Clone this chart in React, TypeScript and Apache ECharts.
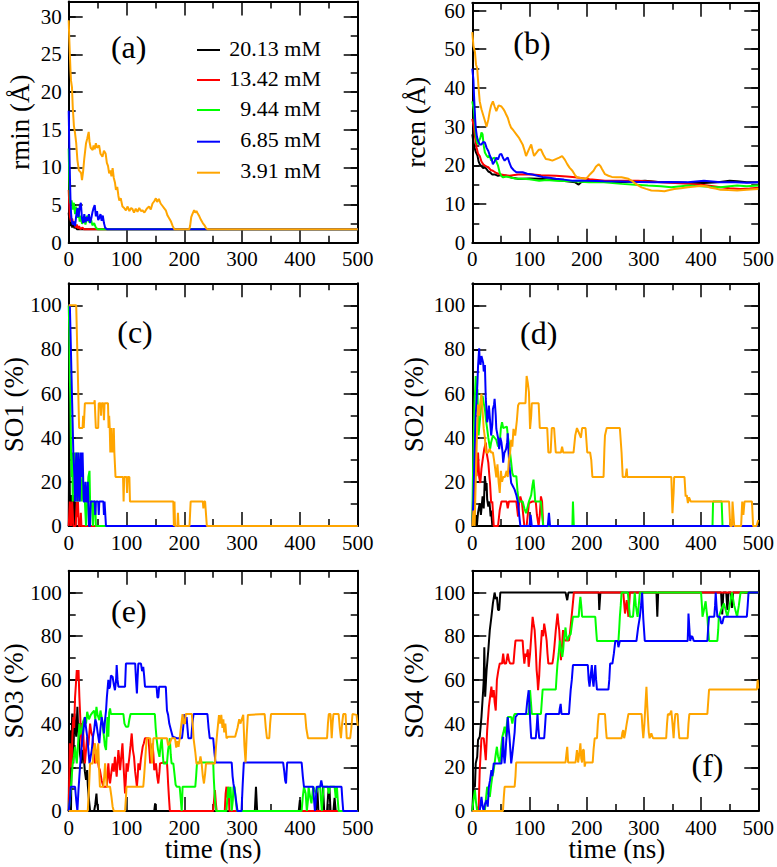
import React, { useEffect, useRef } from "react";
import * as echarts from "echarts";

// ---------- labels ----------
const CONCENTRATIONS = ["20.13 mM", "13.42 mM", "9.44 mM", "6.85 mM", "3.91 mM"];
const COLORS = ["#000000", "#ff0000", "#00ff00", "#0000ff", "#ffa500"];
const TIME_TICKS = [0, 100, 200, 300, 400, 500];

// ---------- (a) rmin ----------
const A_BLACK = [[0,4],[1,3],[2,2.4],[3,3.6],[4,2.2],[5,3.2],[6,2.0],[8,2.8],[10,1.9],[12,2.2],[14,1.8],[500,1.8]];
const A_RED = [[0,7],[1,5],[2,3.5],[4,2.8],[6,3.2],[8,2.4],[10,2.6],[12,2.0],[14,2.4],[16,1.9],[18,2.2],[20,1.8],[24,2.0],[26,1.8],[500,1.8]];
const A_GREEN = [[0,12.5],[1,8.5],[2,6],[3,5.2],[5,5.6],[7,4.4],[9,5.3],[11,3.8],[13,4.8],[15,3.3],[17,4.2],[19,2.8],[21,3.6],[23,2.5],[26,3.3],[29,2.4],[32,3.6],[35,2.7],[38,3.3],[41,2.3],[44,2.6],[47,2.0],[50,1.8],[500,1.8]];
const A_BLUE = [[0,17.5],[1,13],[2,9],[3,6],[4,4],[5,3],[7,2.4],[9,2.8],[11,2.2],[13,3.6],[15,4.6],[17,3.4],[19,4.8],[21,5.3],[23,3.2],[25,2.6],[27,3.8],[29,2.7],[31,3.4],[33,2.9],[35,3.8],[37,2.6],[39,3.2],[41,4.0],[43,4.6],[45,5.0],[47,3.5],[49,4.2],[51,3.0],[53,3.3],[55,3.8],[57,2.9],[59,3.6],[61,2.6],[63,2.0],[66,1.8],[500,1.8]];
const A_ORANGE = [[0,29.5],[1,27],[2,25],[3,23],[4,21.5],[5.7,20.6],[7,18],[9,15.5],[11,14.5],[13,13.2],[15,11],[17.6,9.6],[20,9.4],[21.6,9.2],[23,8.3],[25,9.5],[27,11.2],[30,13.2],[32,13.8],[34.6,14.7],[36,13.4],[38,12.6],[41.5,12.3],[43,12.9],[45,12.4],[47,13.2],[49,12.6],[52.6,12.9],[55,11.8],[58.4,11.4],[61,12.2],[64,11.8],[66,10.6],[68,10.2],[70,9.2],[72,9.6],[74,8.8],[76,9.9],[78,8.6],[80,8.0],[81.7,7.0],[84,7.4],[86,6.2],[87.5,5.6],[90,5.9],[93,4.8],[96,4.6],[99,4.3],[102,4.8],[105,4.2],[108,4.6],[110,4.5],[113,4.0],[116,4.5],[119,4.1],[122,4.6],[125,4.2],[127.5,4.3],[131,4.0],[135,4.5],[139,4.8],[142,4.4],[145,5.2],[148,5.5],[150.8,5.9],[153,5.4],[156,5.8],[159,5.2],[162,4.9],[165,4.6],[168,4.3],[171,3.6],[174,3.2],[177,2.8],[180,2.2],[182.6,1.8],[208.6,1.8],[210,2.2],[212,3.4],[214,3.8],[217,4.3],[219,4.0],[221,4.2],[223,3.9],[226,3.5],[229,3.0],[232,2.6],[235,2.3],[238,1.9],[240,1.8],[500,1.8]];

// ---------- (b) rcen ----------
const B_BLACK = [[0,28],[2,26],[4,24.5],[6,23.5],[9,22.5],[11,21],[13,20.3],[16,19.8],[19,19.3],[22,19.5],[25,19],[28,18.4],[31,18.2],[35,17.6],[40,17.6],[45,17.3],[50,17.5],[59,17.3],[70,16.8],[80,16.5],[88,16.5],[100,16.6],[117,16.5],[130,16.4],[146,16.2],[165,15.9],[180,15.6],[186,15.0],[190,15.6],[204,16],[230,15.8],[261,15.6],[280,15.8],[302,16],[325,15.7],[348,15.6],[375,15.5],[405,15.4],[430,15.6],[450,16],[463,15.9],[480,15.6],[500,15.6]];
const B_RED = [[0,32],[3,29.7],[5,27],[7.5,24.6],[10,23],[13,22.4],[16,21],[19,20.3],[23,19.8],[28,19.5],[32,18.8],[36,18.6],[42,18],[48,17.7],[55,17.5],[65,17.3],[80,17.6],[100,17.7],[120,17.4],[146,17.3],[165,17.1],[180,16.9],[205,16.4],[232,16],[260,16],[290,16],[310,15.8],[330,15.6],[355,15.4],[377,15.2],[405,14.9],[434,14.3],[450,14.1],[469,13.9],[485,14.0],[500,14.2]];
const B_GREEN = [[0,36.5],[3,34],[6,28],[8,26],[10,25.4],[12,26.5],[14,27],[16,28.5],[18,28],[20,25],[22,23.3],[25,22.5],[28,22],[30,22.6],[33,21.2],[36,21.8],[39,22],[42,21],[45,19.9],[48,18],[51,17.2],[54,16.9],[60,17.1],[65,16.9],[75,16.6],[88,16.5],[100,16.4],[117,16],[130,16.2],[146,16],[175,15.9],[204,15.6],[230,15.6],[261,15.2],[285,15.0],[307,14.8],[330,14.6],[348,14.3],[365,14.6],[377,14.8],[400,14.6],[420,14.4],[434,14.3],[450,14.6],[463,14.8],[480,14.6],[500,14.8]];
const B_BLUE = [[0,45],[2,42],[3,38],[5,32],[6,29.7],[8,27.5],[10,26.3],[13,25.4],[16,25.4],[19,26],[22,25.9],[25,24.5],[28,23.7],[31,22.4],[34,21.5],[36,20.3],[39,21],[42,22],[45,21.5],[48,22.8],[51,22.9],[54,21.8],[56.5,21.2],[59,21.6],[62,22],[65,20.6],[68,19.5],[72,18.8],[77,18.2],[88,18.2],[96,17.8],[105,17.6],[114,17.3],[123,17],[135,16.8],[146,16.5],[160,16.3],[175,16],[190,16.1],[204,16],[230,15.9],[261,15.8],[290,15.7],[319,15.6],[345,15.7],[377,15.6],[405,16],[420,15.8],[434,15.6],[460,15.6],[480,15.5],[500,15.6]];
const B_ORANGE = [[0,54.4],[2,50.8],[4.6,49.3],[6.5,46],[8.6,45],[11,40],[13,36.5],[16,34.5],[19,33],[22,31.5],[25,30],[28,31.8],[30.6,34],[33,35.5],[36,36.5],[39,35.2],[42,34],[46,35.5],[51,35.2],[54,34.6],[56.5,34],[59,33.2],[62,32.3],[65,30.8],[68,29.7],[72,29],[77,28],[82,27],[88,25.4],[91,24],[94,22.4],[98,23.8],[103,25.4],[106,23.5],[108,22.4],[112,23.2],[116,24],[120,24.1],[124,22.8],[128.6,21.6],[134,21.5],[140,21.2],[146,21.6],[152,22],[157,22.4],[162,21.4],[166,20.3],[170,19.4],[175,18.6],[179,17.6],[183,16.9],[190,16.7],[198,16.5],[202,17],[206,17.7],[212,18.6],[216,19.6],[221,20.3],[224,19.8],[227,19],[232,17.7],[238,17.3],[244,17],[252,16.9],[261,16.9],[267,16.7],[273,16.5],[279,16],[284,15.4],[290,14.8],[296,14.3],[304,13.9],[313,13.5],[325,13.4],[336,13.3],[345,13.6],[353,13.9],[365,14.1],[377,14.3],[390,14.5],[400,14.7],[410,14.5],[417,14.2],[425,14.0],[434,13.7],[448,13.6],[463,13.5],[480,13.7],[500,13.9]];

// ---------- (c) SO1 ----------
const C_BLACK = [[0,0],[1,44.4],[2,11],[3,0],[4,11.1],[5,14],[6,0],[7,11.1],[8,14],[9,11.1],[10,0],[11,11.1],[12,0],[500,0]];
const C_RED = [[0,0],[2,11.1],[4,0],[6,11.1],[8,0],[12,0],[14,11.1],[15,4],[16,11.1],[17.5,0],[20,0],[21,6],[22,0],[500,0]];
const C_GREEN = [[0,100],[1,88.9],[2,66.7],[3,55.6],[4,33.3],[5,22.2],[6,33.3],[7,11.1],[8,22.2],[10,33.3],[12,22.2],[14,11.1],[15,33.3],[17,22.2],[18,11.1],[20,22.2],[22,11.1],[24,22.2],[26,11.1],[28,11.1],[30,0],[32,11.1],[34,22.2],[36,25],[37,11.1],[40,11.1],[42,0],[44,11.1],[46,11.1],[47,0],[500,0]];
const C_BLUE = [[0,100],[2,100],[4,77.8],[6,55.6],[8,33.3],[10,22.2],[11,11.1],[12,22.2],[13,33.3],[14,22.2],[15,11.1],[16,22.2],[17,33.3],[18,20],[19,11.1],[20,22.2],[21,33.3],[22,33.3],[23,22.2],[24,33.3],[25,22.2],[26,11.1],[28,11.1],[29,20],[30,11.1],[32,11.1],[33,20],[34,11.1],[35,0],[37,0],[38,11.1],[45,11.1],[46,5],[47,11.1],[51,11.1],[52,5],[53,11.1],[60,11.1],[61,5],[62,11.1],[63,11.1],[64.5,0],[500,0]];
const C_ORANGE = [[0,100],[13,100],[14,88.9],[15,77.8],[16,66.7],[17,55.6],[18,44.4],[24,44.4],[25,50],[26,44.4],[28,55.6],[44,55.6],[45,57],[46,50],[47,44.4],[51,44.4],[52,55.6],[55,55.6],[56,50],[57,55.6],[60,55.6],[61,48],[62,55.6],[68,55.6],[69,44.4],[70,50],[71,44.4],[72,33.3],[74,44.4],[75,33.3],[76,40],[77,33.3],[78,44.4],[79,33.3],[81,22.2],[94,22.2],[95,11.1],[96,22.2],[100,22.2],[101,15],[102,22.2],[105,22.2],[106,11.1],[181,11.1],[182,0],[183,11.1],[184,0],[188,0],[189,6],[190,0],[209,0],[211,11.1],[232,11.1],[233,8],[234,11.1],[236,11.1],[239,0],[500,0]];

// ---------- (d) SO2 ----------
const D_BLACK = [[0,0],[1.5,0],[2,40],[2.5,60],[3,30],[4,0],[6,0],[7,5],[8,0],[10,6],[13,10.4],[15,5],[18,13.4],[20,8],[22,22.6],[24,16],[25,19.5],[26,12],[28,8.8],[30,11.1],[32,4.3],[33,7],[35,0],[500,0]];
const D_RED = [[0,0],[2,19.5],[3,11.1],[4.6,41],[6,30],[7.5,22.6],[9,28],[10,33.3],[12,22.2],[14,19.5],[16,26],[19,31.7],[21,35],[23.6,37.8],[25,33.3],[28,28.7],[30,22.2],[31,19.5],[33,10.4],[35,11.1],[37.5,0],[45,0],[48,7.3],[51,11.1],[60,11.1],[62,8],[64,11.1],[77,11.1],[80,4.3],[82,11.1],[84,13.4],[87,10.4],[89,5],[91,0],[95,0],[97,5],[99,10.4],[105,11.1],[111,11.1],[113,5],[116,0],[118,5],[120,13.4],[122,11.1],[124,0],[500,0]];
const D_GREEN = [[0,0],[1,20],[2,34.8],[4,55.6],[6,68],[7,60],[9,62],[10,50],[11,41],[12,44.4],[14,50],[16,55.6],[18,59],[20,55.6],[22,53],[24,48],[26,44],[28,40],[31,34.8],[33,38],[36,41],[39,40],[42,39],[45,36],[48,37.8],[50,44.4],[52,47],[54,44.4],[57,44.7],[60.5,45],[62,41],[64,37.8],[66,33.3],[68,28.7],[70,24],[72,22.6],[77,22.6],[79,16],[81,11.1],[88,11.1],[91,8],[94,5.8],[97,9],[99,11.1],[103,14],[105,18],[107,21],[109,15],[110,11.1],[120,11.1],[122,5],[124,0],[175,0],[176,11.1],[177.5,0],[420,0],[421,11.1],[436,11.1],[437.5,0],[500,0]];
const D_BLUE = [[0,0],[2,12],[4,33.3],[6,50],[8,60],[9,65],[10,72],[12,80.5],[13,75],[14.4,73],[16,77],[19,74],[20,70],[22,73],[23.6,57.6],[25,52],[26,47],[28,50],[29,54.6],[31,48],[33,41],[35,46],[36,53],[38,55],[39,57.6],[41,50],[42,44],[45,40],[47,34.8],[49,40],[51,37.8],[53,33],[54,28.7],[56,33],[59,34.8],[61,38],[62,42],[63,35],[65,27],[67,22],[68,19.5],[71,18],[74,16.5],[77,14],[80,10.4],[82,5],[84,0],[100,0],[102,5],[104,0],[132,0],[134,6],[136,0],[500,0]];
const D_ORANGE = [[0,0],[2,7],[4,0],[6,20],[8,40],[10,55],[12,50],[14,56],[16,60],[18,52],[20,44],[22,40],[24,33.3],[28,33.3],[30,35],[33,33.3],[36,33.3],[38,30],[40,26],[42,22],[44,28],[46,20],[48,15],[50,25],[52,20],[54,22.2],[57,22.2],[60,25],[62,22.2],[64,30],[66,33],[68,39],[70,36],[72,44],[75,41],[78,48],[80,54.6],[82,55.6],[93,55.6],[94,62],[95,68],[97,65],[99,60.7],[101,44],[103,50],[104,55.6],[116,55.6],[118,44.4],[131,44.4],[133,33.3],[137,33.3],[139,44.4],[143,44.4],[146,33.3],[155,33.3],[157,36],[159,33.3],[177,33.3],[180,41],[183,44.4],[190,40],[192,44.4],[198,44.4],[201,33.3],[206,33.3],[208,30],[210,22.2],[229.5,22.2],[231,35],[232,41],[235,44.4],[258,44.4],[261,33.3],[263,22.2],[268,22.2],[270,26],[271,22.2],[348,22.2],[350,5.8],[352,15],[353,22.2],[371,22.2],[373,13.4],[375,14],[377,10.4],[379,13],[382,11.1],[449,11.1],[451,0],[454,0],[455,11.1],[456,11.1],[458,0],[470,0],[472,11.1],[474,5],[476,11.1],[489,11.1],[491,0],[497,0],[500,2.7]];

// ---------- (e) SO3 ----------
const E_BLACK = [[0,0],[1,30],[2,37],[3,10],[4,0],[5,30],[6,44.6],[7,30],[8,21.8],[9,35],[10,44.6],[11,40],[13,34],[14,40],[15,47.7],[16,40],[18.5,29.4],[20,25],[22.5,21.8],[24,28],[26.5,23.3],[28,18],[30,14.2],[32,18.7],[33,12],[34.6,6.5],[37,0],[44,0],[46,3],[48,8],[49,4],[51,0],[148,0],[149.5,3.5],[151,0],[322,0],[324,11.1],[326,0],[398,0],[400,5],[402,0],[428,0],[430,11.1],[432,0],[438,0],[440,11.1],[442,0],[447,0],[449,8],[451,11.1],[453,0],[458,0],[460,6],[462,0],[500,0]];
const E_RED = [[0,0],[2,31],[3.5,20],[5,21.8],[6.5,35],[8,43],[9.5,38],[11,52],[12.5,58],[14,64.5],[15.5,60],[17,64.5],[18.5,52],[20,43],[21,35],[22.5,29.4],[24,40],[25,37],[26.5,28],[28,21.8],[30,28],[32,34],[34,30],[37,40],[39,36],[41.5,34],[43,26],[45.6,21.8],[47.5,28],[49.6,24.8],[52,20],[54,18.7],[57,14],[60,11.1],[66,11.1],[67.5,18],[68.6,21.8],[70,16],[71.5,12.6],[74,18],[76,21.8],[78,18],[80,24.8],[81.5,20],[83,15.7],[84.5,22],[86,27.9],[88,22],[89,18.7],[91,25],[93,31],[95,20],[97.5,8],[99,15],[100,21.8],[102,18],[105,24.8],[107,30],[109,35.5],[111,28],[113,24.8],[115,18],[118,11.1],[119.5,16],[120.5,21.8],[123,18.7],[125,24],[128,29.4],[130,31],[132,33.3],[138,33.3],[139.5,28],[141,21.8],[143,26],[145,31],[146.5,26],[148,18.7],[151,21.8],[153,16],[155,12.6],[157,18],[158,21.8],[164,22.2],[170,22.2],[171,18],[172,12.6],[173.5,6],[175,0],[250,0],[251.5,5],[253,9.6],[254.5,4],[256,0],[270,0],[271.5,8],[273,11.1],[275,6],[276.5,11.1],[278,0],[500,0]];
const E_GREEN = [[0,0],[2,5],[3.5,9.6],[5,15],[7,21.8],[9,25],[11,29.4],[12.5,25],[14,21.8],[16,30],[18.5,40],[20,35],[22.5,37],[25,41],[28,43],[30,40],[32,45.4],[35,42],[38,43.9],[41,45],[44,46],[46,42],[48,47.7],[50,44],[53,41.6],[55,46],[57,43],[59,38],[61,34],[62.5,30],[64.6,27.9],[66,36],[67,43],[68.6,34],[70,45],[71.5,47],[73,44.4],[94.6,44.4],[96.5,40],[99,38.6],[103,38.6],[105,42],[107,44.4],[149,44.4],[150.5,38],[152,33.3],[154.5,28],[157,24.8],[159,30],[161,33.3],[162.5,27],[164,21.8],[170,21.8],[172,28],[175,33.3],[176.5,26],[178,21.8],[181,21.8],[183,17],[185,12],[187,11.1],[192,11.1],[194,5],[195.5,0],[196.3,5],[197,11.1],[219,11.1],[220.5,16],[222,22.2],[250,22.2],[251,15],[253,5],[255,0],[273,0],[274.5,6],[276,11.1],[278,6],[280,11.1],[282,0],[284,5],[285,11.1],[287,11.1],[289,5],[291,0],[403,0],[405,6.5],[407,11.1],[410,8],[412,0],[414,5],[415,11.1],[418,6],[420,3.5],[423,11.1],[428,8],[432,11.1],[435,11.1],[436.5,5],[438,0],[439.5,6],[441,11.1],[448,11.1],[450,8],[452,11.1],[460,11.1],[462,6],[464,11.1],[465.5,5],[467,0],[500,0]];
const E_BLUE = [[0,0],[2,5],[3.5,11.1],[8,11.1],[11,11.1],[13,5],[15,0],[17,10],[20,21.8],[22,28],[24,34],[26,38],[28,43],[30,38],[32,34],[34,28],[36,21.8],[38,25],[40,27.9],[42,34],[44,37],[46,42],[48,40],[50,36],[53,31],[55,38],[57,43],[59,40],[61,35.5],[63,42],[64.6,46],[66,52],[68.6,60],[70,56],[71.5,56.9],[73,62],[76,61.4],[78,58],[80,55.3],[82,60],[83,66.8],[84.5,60],[86,56.9],[97.5,56.9],[99,67.5],[115,67.5],[116.5,60],[118,53.8],[119,60],[120.5,67.5],[125,67.5],[127,64],[129,66],[130.5,62],[132,56.9],[152,56.9],[153.5,52],[155,52],[156.5,56.9],[168,56.9],[170,46],[172,44],[174,40],[177,37],[180,34],[187,33.3],[196,33.3],[198,38],[200,44.4],[202,40],[204,43],[205.5,38],[207,33.3],[212,33.3],[214,40],[216,44.4],[240,44.4],[242,38],[244,33.3],[250,33.3],[252,27],[254,22.2],[282,22.2],[283.5,16],[285,12.6],[288,8],[290,4],[292,0],[299,0],[301,12],[303,22.2],[371,22.2],[373,18],[374.5,14],[376,12.6],[377,18],[378,22.2],[403,22.2],[405,16],[407,11.1],[423,11.1],[424.5,5],[426,0],[427.5,5],[429,11.1],[435,11.1],[437,14],[439,11.1],[472,11.1],[473.5,5],[475,0],[500,0]];
const E_ORANGE = [[0,0],[33,0],[35,10],[37,21.8],[41.5,21.8],[43,28],[45.6,31],[48,21.8],[49.5,26],[51,31],[52.5,20],[54,11.1],[60,11.1],[61.5,16],[63,21.8],[64.5,16],[66,11.1],[71.5,11.1],[74,6.5],[76,2],[78,0],[97.5,0],[99,6],[100,11.1],[129,11.1],[130.5,16],[132,21.8],[133.5,28],[135,33.3],[141,33.3],[142.5,26],[144,21.8],[145.5,28],[146.5,33.3],[170,33.3],[172,30],[175,31],[178,33.3],[184,33.3],[186,29],[188,32],[190,29.4],[192,33],[193,35.5],[195,40],[197,44.4],[199,40],[201,40],[202.5,44.4],[213,44.4],[215,38],[216,33.3],[219,27],[221,21.8],[226,21.8],[228,25],[230,21.8],[232,16],[234,12.6],[236,17],[237.6,21.8],[253,21.8],[255,30],[257,36],[260,43.9],[262,40],[264,44],[266,38],[267.6,42],[269,36],[271,40],[273,33.3],[276,34],[288,34],[292,38],[295,42],[297,40],[302,44],[304,30],[306,22.2],[308,35],[310,44],[339,44.4],[341,38],[343,33.3],[347,33.3],[348.5,40],[350,44.4],[409,44.4],[411,38],[414,33.3],[447,33.3],[448.5,40],[450,44.4],[453,44.4],[455,33.3],[456.5,40],[458,44.4],[467,44.4],[469,38],[471,33.3],[473,40],[475,44.4],[479,44.4],[481,33.3],[487,33.3],[489,38],[491,44.4],[498,44],[500,39]];

// ---------- (f) SO4 ----------
const F_BLACK = [[0,0],[2,11.1],[4.6,11.1],[6,21.8],[8.6,24.8],[10,32.5],[13,34],[16,43],[19,55.3],[20,60],[21,75],[22.5,52.3],[24,60],[25,64.5],[28,73.6],[30.6,82.8],[33.4,88.9],[36,95],[39,100],[41,97],[43,98],[45,92],[47,92],[48,96],[49,100],[163,100],[166,96.5],[168,100],[221,100],[222,92],[224,100],[322,100],[323.5,88.9],[325,100],[435,100],[437,90],[439,100],[444,100],[446,92],[448,100],[452,100],[454,93],[456,100],[500,100]];
const F_RED = [[0,0],[8,0],[9,2],[11,0],[13,18.7],[16,33.3],[20,33.3],[22,28],[23.6,23.3],[26,37],[29,47.7],[31,52],[33.4,56.9],[35,52],[37.5,55.3],[39,50],[41,46],[43,60],[45.6,64.5],[48,67.5],[52,67.5],[54,72],[56,67.5],[59,67.5],[62,72],[64,69],[66,67.5],[72,67.5],[74,74],[75.5,78],[88,78],[89.5,72],[91,67.5],[93,72],[95,70.6],[97,74],[98.6,66],[101,72],[103,79.7],[105.5,88.9],[107,86],[109,82.8],[111,74],[112.5,64.5],[114,60],[115,55.3],[117,62],[118,67.5],[120,76],[121.7,82.8],[124,80],[125.7,85.8],[128,82],[130,78],[131.5,72],[133,67.5],[140,67.5],[141.5,70],[143,73.6],[146,82.8],[149,90.4],[150.5,86],[152,82.8],[153.5,76],[155,69],[157,76],[158.6,82.8],[160,80],[162,78],[169,78],[171,82],[173.6,88.9],[175.5,94],[177.6,100],[264,100],[267,90.4],[270,96.5],[273,88.9],[275.7,100],[500,100]];
const F_GREEN = [[0,0],[2,5],[4.6,9.6],[6.5,4],[8.6,0],[22,0],[24,6],[26,11.1],[28,8],[30.6,6.5],[33,12],[35,15.7],[37,18],[39,21.8],[41,26],[43,29.4],[45,25],[48,21.8],[50,28],[52.5,34],[54.5,36],[56.5,38.6],[58,36],[59,34],[60.5,40],[62,43],[68,43],[70,40],[72,43],[74,44.4],[98.6,44.4],[100,50],[101,55.3],[102.5,50],[104,44.4],[120,44.4],[121.5,50],[123,55.6],[146,55.6],[147.5,62],[149,67.5],[151,72],[153,78],[155,74],[157.4,70.6],[159,74],[160,78],[161.5,81],[163,84],[164.5,80],[166,78],[169,80],[172,81],[174,85],[176,88.9],[186,88.9],[187.5,94],[189,98],[190.5,94],[192,88.9],[215,88.9],[216.5,83],[218,77.8],[255.5,77.8],[257,84],[258,88.9],[259.5,94],[261,100],[272,100],[274,94],[275.7,88.9],[281,88.9],[282.5,94],[284,100],[286,94],[289,88.9],[291,94],[293,100],[400,100],[401.5,94],[402.5,88.9],[405,92],[408,96],[409.5,92],[411,88.9],[412.5,83],[414,77.8],[428.5,77.8],[430,83],[431,88.9],[435,92],[440,95],[443,92],[446,88.9],[450,94],[454,100],[458,94],[460,92],[463,88.9],[466,94],[469,100],[500,100]];
const F_BLUE = [[0,0],[13,0],[16,6.5],[18,2],[20,0],[22,3],[25,5],[27,2],[29,11.1],[31,14],[33.4,18.7],[35,16],[37.5,21.8],[51,21.8],[52.5,28],[54,34],[55,26],[56.5,21.8],[58,26],[59,31],[60.5,36],[62,43],[63.5,38],[65,34],[66.5,28],[68,21.8],[70,26],[72,31],[74,36],[75.5,43],[79.6,44.4],[94,44.4],[96,50],[98.6,55.3],[100,48],[101.5,40],[103,33.3],[111,33.3],[112.5,38],[114,44.4],[115.5,38],[117,33.3],[125.7,33.3],[127,38],[128.6,44.4],[151.7,44.4],[153,47],[154.5,49],[156,44.4],[169,44.4],[170.5,50],[172,55.3],[174,60],[176,66.8],[202,66.8],[203.5,60],[205,56.9],[207,62],[209,66.8],[210.5,60],[212,56.9],[213.5,62],[215,66.8],[216.5,60],[218,55.6],[238,55.6],[239.5,60],[241,67.5],[245,67.5],[247.5,72],[250,77.8],[254,77.8],[255.5,75],[258,77.8],[287,77.8],[290,84],[293,88.9],[295,94],[297,100],[299,88],[301.6,77.8],[376.6,77.8],[377.5,85],[378,90.4],[379.5,84],[381,77.8],[383,80],[385,79.7],[387,78],[388,77.8],[411,77.8],[412.5,84],[414,88.9],[423,88.9],[424.5,94],[425.6,100],[427,94],[428.5,88.9],[433,88.9],[435,86],[437,85.8],[439,88],[440,88.9],[480,88.9],[481.5,94],[483,100],[500,100]];
const F_ORANGE = [[0,0],[53.6,0],[55,6],[56.5,11.1],[74,11.1],[75.5,16],[76.7,22.2],[163,22.2],[164.5,26],[166,29.4],[167.5,22.2],[180.5,22.2],[183,27.9],[185,22.2],[187,26],[189,31],[190.5,24],[192,22.2],[193.5,28],[195,27.9],[196.5,20.3],[198,22.2],[210.5,22.2],[212,28],[214,33.3],[218,33.3],[219.5,40],[221,44.4],[232,44.4],[233.5,38],[235,33.3],[261,33.3],[262.5,36],[264,37],[265.5,33.3],[267,35],[270,40],[273,44.4],[296,44.4],[297.5,38],[299,33.3],[301,40],[303,50],[304.5,56.9],[306,48],[307,43],[308.5,36],[310,33.3],[313,35.5],[316,33.3],[339,33.3],[340.5,40],[342,44.4],[345,44],[348,46],[350,40],[352,33.3],[353.5,40],[355,44.4],[359,44.4],[360.5,38],[362,33.3],[376.6,33.3],[378,40],[379.5,44.4],[411,44.4],[412.5,50],[414,55.6],[497.7,55.6],[499,60],[500,56]];

// ---------- layout (not data) ----------
const COL_LEFT = [68.7, 472.3];
const ROWS = [
  { top: 1.5, height: 241.2 },
  { top: 283.3, height: 242.7 },
  { top: 570.7, height: 240.3 },
];
const PLOT_W = 289;
const SERIF = "'Liberation Serif', 'Times New Roman', serif";

const PANELS = [
  { col: 0, row: 0, yMax: 32, yStep: 5, lines: [A_BLACK, A_RED, A_GREEN, A_BLUE, A_ORANGE], yTitle: "rmin (Å)", yTitleX: 20, tag: "(a)", tagX: 128.7, tagY: 47 },
  { col: 1, row: 0, yMax: 62, yStep: 10, lines: [B_BLACK, B_RED, B_GREEN, B_BLUE, B_ORANGE], yTitle: "rcen (Å)", yTitleX: 416, tag: "(b)", tagX: 532, tagY: 43 },
  { col: 0, row: 1, yMax: 110, yStep: 20, lines: [C_BLACK, C_RED, C_GREEN, C_BLUE, C_ORANGE], yTitle: "SO1 (%)", yTitleX: 14, tag: "(c)", tagX: 135, tagY: 332 },
  { col: 1, row: 1, yMax: 110, yStep: 20, lines: [D_BLACK, D_RED, D_GREEN, D_BLUE, D_ORANGE], yTitle: "SO2 (%)", yTitleX: 414, tag: "(d)", tagX: 538.7, tagY: 333 },
  { col: 0, row: 2, yMax: 110, yStep: 20, lines: [E_BLACK, E_RED, E_GREEN, E_BLUE, E_ORANGE], yTitle: "SO3 (%)", yTitleX: 14, tag: "(e)", tagX: 128.8, tagY: 611 },
  { col: 1, row: 2, yMax: 110, yStep: 20, lines: [F_BLACK, F_RED, F_GREEN, F_BLUE, F_ORANGE], yTitle: "SO4 (%)", yTitleX: 413.5, tag: "(f)", tagX: 707.5, tagY: 765 },
];

function textStyle(text: string, size: number, align: string) {
  return {
    text, fill: "#000", fontSize: size, fontFamily: SERIF,
    align, verticalAlign: "middle", textAlign: align, textVerticalAlign: "middle",
  };
}

function buildOption() {
  const grid: any[] = [];
  const xAxis: any[] = [];
  const yAxis: any[] = [];
  const series: any[] = [];
  const graphic: any[] = [];
  const axisLine = { show: true, onZero: false, lineStyle: { color: "#000", width: 2 } };
  const tickStyle = { color: "#000", width: 1.5 };

  PANELS.forEach((p, pi) => {
    const left = COL_LEFT[p.col];
    const { top, height } = ROWS[p.row];
    grid.push({ left, top, width: PLOT_W, height, containLabel: false });

    const xBase = {
      type: "value", gridIndex: pi, min: TIME_TICKS[0], max: TIME_TICKS[TIME_TICKS.length - 1], interval: 100,
      axisLine, splitLine: { show: false },
      axisTick: { show: true, inside: true, length: 14, lineStyle: tickStyle },
      minorTick: { show: true, splitNumber: 2, length: 7, lineStyle: tickStyle },
    };
    xAxis.push({
      ...xBase, position: "bottom",
      axisLabel: { show: true, fontSize: 21, fontFamily: SERIF, color: "#000", margin: 6, showMinLabel: true, showMaxLabel: true },
    });
    xAxis.push({ ...xBase, position: "top", axisLabel: { show: false } });

    const yBase = { type: "value", gridIndex: pi, min: 0, max: p.yMax, splitLine: { show: false } };
    const step = p.yStep;
    yAxis.push({
      ...yBase, position: "left", interval: step, axisLine,
      axisTick: { show: true, inside: true, length: 14, lineStyle: tickStyle },
      axisLabel: {
        show: true, fontSize: 21, fontFamily: SERIF, color: "#000", margin: 7, showMaxLabel: false,
        formatter: (v: number) => (Math.abs(v / step - Math.round(v / step)) < 1e-6 ? String(v) : ""),
      },
    });
    yAxis.push({
      ...yBase, position: "left", interval: step / 2, axisLine: { show: false, onZero: false },
      axisTick: { show: true, inside: true, length: 7, lineStyle: tickStyle }, axisLabel: { show: false },
    });
    yAxis.push({
      ...yBase, position: "right", interval: step, axisLine,
      axisTick: { show: true, inside: true, length: 14, lineStyle: tickStyle }, axisLabel: { show: false },
    });
    yAxis.push({
      ...yBase, position: "right", interval: step / 2, axisLine: { show: false, onZero: false },
      axisTick: { show: true, inside: true, length: 7, lineStyle: tickStyle }, axisLabel: { show: false },
    });

    p.lines.forEach((data, si) => {
      series.push({
        type: "line", name: CONCENTRATIONS[si], xAxisIndex: pi * 2, yAxisIndex: pi * 4, data,
        showSymbol: false, symbol: "none", silent: true, clip: true,
        lineStyle: { color: COLORS[si], width: 2 }, itemStyle: { color: COLORS[si] },
      });
    });

    graphic.push({ type: "text", x: p.tagX, y: p.tagY, silent: true, style: textStyle(p.tag, 32, "center") });
    graphic.push({
      type: "text", x: p.yTitleX, y: top + height / 2, rotation: Math.PI / 2, silent: true,
      style: textStyle(p.yTitle, 27, "center"),
    });
    if (p.row === 2) {
      graphic.push({ type: "text", x: left + PLOT_W / 2, y: 849, silent: true, style: textStyle("time (ns)", 27, "center") });
    }
  });

  const legendY = [50, 80, 110, 141.7, 172.7];
  CONCENTRATIONS.forEach((name, i) => {
    graphic.push({
      type: "line", silent: true,
      shape: { x1: 197, y1: legendY[i], x2: 220, y2: legendY[i] },
      style: { stroke: COLORS[i], lineWidth: 2 },
    });
    graphic.push({ type: "text", x: 321, y: legendY[i] - 2, silent: true, style: textStyle(name, 22, "right") });
  });

  return { animation: false, backgroundColor: "#ffffff", grid, xAxis, yAxis, series, graphic };
}

export default function App() {
  const ref = useRef<HTMLDivElement>(null);
  useEffect(() => {
    if (!ref.current) return;
    const chart = echarts.init(ref.current, null, { renderer: "svg" });
    chart.setOption(buildOption() as any);
    return () => chart.dispose();
  }, []);
  return (
    <div
      ref={ref}
      style={{ position: "absolute", left: 0, top: 0, width: 777, height: 867, background: "#fff" }}
    />
  );
}
